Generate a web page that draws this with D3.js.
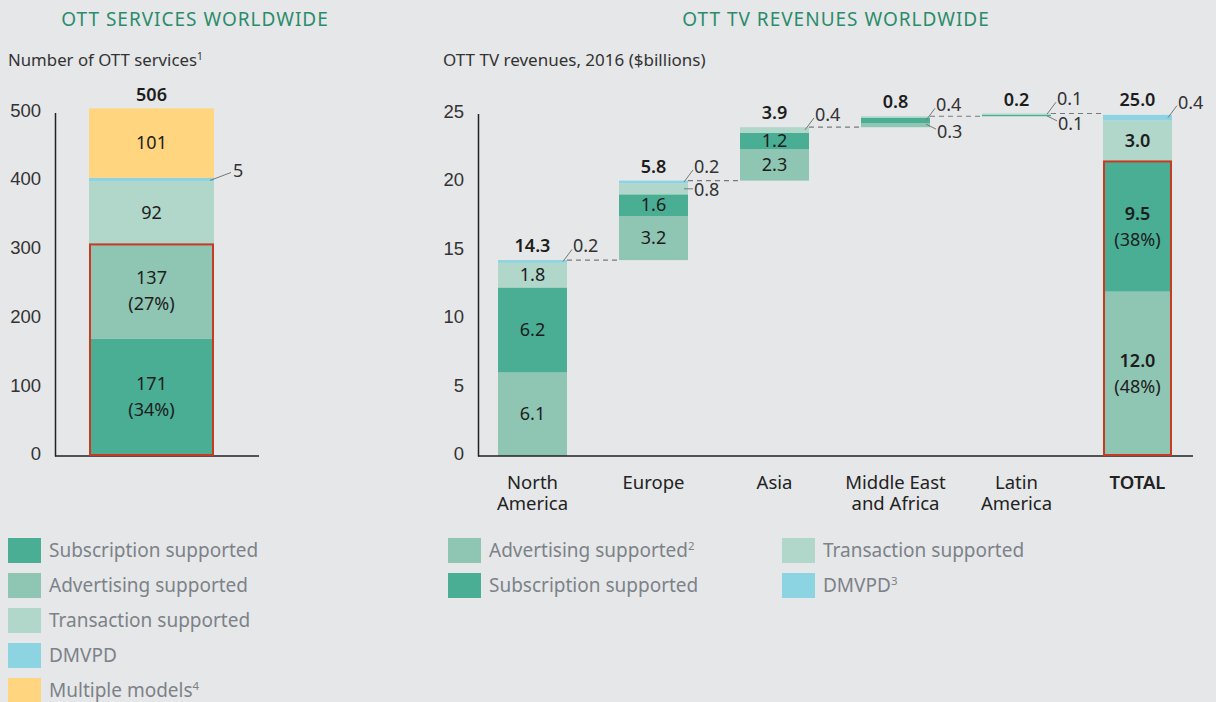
<!DOCTYPE html>
<html>
<head>
<meta charset="utf-8">
<script src="https://cdn.jsdelivr.net/npm/d3@7"></script>
<style>
  html, body { margin: 0; padding: 0; background: #e6e7e9; }
  svg { display: block; font-family: "Noto Sans", "Open Sans", sans-serif; }
</style>
</head>
<body>
<div id="chart"></div>
<script>
// left: number of OTT services, stacked bottom-up
const serviceTypes = ['Subscription supported', 'Advertising supported', 'Transaction supported', 'DMVPD', 'Multiple models'];
const serviceCounts = [171, 137, 92, 5, 101];
const serviceShares = ['(34%)', '(27%)', null, null, null];
const serviceTotal = 506;
const serviceTicks = [0, 100, 200, 300, 400, 500];

// right: OTT TV revenues 2016, $bn
const regions = ['North America', 'Europe', 'Asia', 'Middle East and Africa', 'Latin America', 'TOTAL'];
const regionLabels = [['North', 'America'], ['Europe'], ['Asia'], ['Middle East', 'and Africa'], ['Latin', 'America'], ['TOTAL']];
const advertising = [6.1, 3.2, 2.3, 0.3, 0, 12.0];
const subscription = [6.2, 1.6, 1.2, 0.4, 0.1, 9.5];
const transaction = [1.8, 0.8, 0.4, 0.1, 0.1, 3.0];
const dmvpd = [0.2, 0.2, 0, 0, 0, 0.4];
const regionTotals = [14.3, 5.8, 3.9, 0.8, 0.2, 25.0];
const totalShares = { advertising: '(48%)', subscription: '(38%)' };
const revenueTicks = [0, 5, 10, 15, 20, 25];

// small segments labelled outside the bar with a leader line
const callouts = [
    { region: 'North America', key: 'dmvpd', dir: 'up' },
    { region: 'Europe', key: 'dmvpd', dir: 'up' },
    { region: 'Europe', key: 'transaction', dir: 'flat' },
    { region: 'Asia', key: 'transaction', dir: 'up' },
    { region: 'Middle East and Africa', key: 'subscription', dir: 'up' },
    { region: 'Middle East and Africa', key: 'advertising', dir: 'down' },
    { region: 'Latin America', key: 'transaction', dir: 'up' },
    { region: 'Latin America', key: 'subscription', dir: 'down' },
    { region: 'TOTAL', key: 'dmvpd', dir: 'up' }
];

const colors = {
    subscription: '#4aae94',
    advertising: '#8fc5b3',
    transaction: '#b1d6ca',
    dmvpd: '#8cd4e2',
    multiple: '#ffd57f'
};
const serviceColors = [colors.subscription, colors.advertising, colors.transaction, colors.dmvpd, colors.multiple];
const green = '#2b8c6b';
const red = '#c83a22';
const ink = '#1d1d1d';

const svg = d3.select('#chart').append('svg').attr('width', 1216).attr('height', 702);
svg.append('rect').attr('width', 1216).attr('height', 702).attr('fill', '#e6e7e9');

function superText(sel, main, sup) {
    sel.text(main);
    if (sup) sel.append('tspan').attr('font-size', '0.6em').attr('dy', '-0.6em').text(sup);
}

// ---------- titles ----------
svg.append('text').attr('x', 195).attr('y', 26).attr('text-anchor', 'middle')
    .attr('fill', green).attr('font-size', 19).attr('letter-spacing', 1).text('OTT SERVICES WORLDWIDE');
svg.append('text').attr('x', 836).attr('y', 26).attr('text-anchor', 'middle')
    .attr('fill', green).attr('font-size', 19).attr('letter-spacing', 1).text('OTT TV REVENUES WORLDWIDE');
svg.append('text').attr('x', 8).attr('y', 66).attr('fill', '#333').attr('font-size', 16.8)
    .call(superText, 'Number of OTT services', '1');
svg.append('text').attr('x', 443).attr('y', 66).attr('fill', '#333').attr('font-size', 17)
    .text('OTT TV revenues, 2016 ($billions)');

// ---------- left chart ----------
const yL = d3.scaleLinear().domain([0, 500]).range([456, 112.5]);
const xL = d3.scaleBand().domain(['services']).range([55, 248]).paddingInner(0).paddingOuter(0.272);

const leftAxis = svg.append('g').attr('transform', 'translate(55,0)')
    .call(d3.axisLeft(yL).tickValues(serviceTicks).tickSize(0).tickSizeOuter(0).tickPadding(14));
leftAxis.select('.domain').attr('stroke', '#222').attr('stroke-width', 1.5);
leftAxis.selectAll('text').attr('font-size', 18.5).attr('fill', '#333').attr('font-family', null).attr('dy', '0.2em');

let acc = 0;
const serviceSegs = serviceCounts.map((v, i) => {
    const s = { type: serviceTypes[i], value: v, y0: acc, y1: acc + v, share: serviceShares[i], color: serviceColors[i] };
    acc += v;
    return s;
});

const lx = xL('services');
const lw = xL.bandwidth();
svg.append('g').selectAll('rect').data(serviceSegs).join('rect')
    .attr('x', lx).attr('width', lw)
    .attr('y', d => yL(d.y1)).attr('height', d => yL(d.y0) - yL(d.y1))
    .attr('fill', d => d.color);

svg.append('line').attr('x1', 55).attr('x2', 259).attr('y1', yL(0)).attr('y2', yL(0))
    .attr('stroke', '#222').attr('stroke-width', 1.5);

svg.append('rect').attr('x', lx + 1).attr('width', lw - 2)
    .attr('y', yL(serviceSegs[1].y1)).attr('height', yL(0) - yL(serviceSegs[1].y1) - 1)
    .attr('fill', 'none').attr('stroke', red).attr('stroke-width', 2);

const leftLabels = svg.append('g').attr('font-size', 18).attr('fill', ink).attr('text-anchor', 'middle');
serviceSegs.filter(d => d.value > 20).forEach(d => {
    const cy = yL((d.y0 + d.y1) / 2);
    if (d.share) {
        leftLabels.append('text').attr('x', lx + lw / 2).attr('y', cy - 7).text(d.value);
        leftLabels.append('text').attr('x', lx + lw / 2).attr('y', cy + 19).text(d.share);
    } else {
        leftLabels.append('text').attr('x', lx + lw / 2).attr('y', cy + 6).text(d.value);
    }
});
const smallSeg = serviceSegs[3];
const sy = yL((smallSeg.y0 + smallSeg.y1) / 2);
svg.append('line').attr('x1', lx + lw - 4).attr('y1', sy + 1).attr('x2', lx + lw + 17).attr('y2', sy - 7)
    .attr('stroke', '#777').attr('stroke-width', 1);
svg.append('text').attr('x', lx + lw + 19).attr('y', sy - 2).attr('font-size', 18).attr('fill', '#333').text(smallSeg.value);
svg.append('text').attr('x', lx + lw / 2).attr('y', yL(serviceTotal) - 7).attr('text-anchor', 'middle')
    .attr('font-size', 18).attr('font-weight', 600).attr('fill', ink).text(serviceTotal);

// ---------- right chart ----------
const yR = d3.scaleLinear().domain([0, 25]).range([456, 113.5]);
const xR = d3.scaleBand().domain(regions).range([472, 1198]).paddingInner(0.43).paddingOuter(0.215);
const bw = xR.bandwidth();

const rightAxis = svg.append('g').attr('transform', 'translate(478,0)')
    .call(d3.axisLeft(yR).tickValues(revenueTicks).tickSize(0).tickSizeOuter(0).tickPadding(14));
rightAxis.select('.domain').attr('stroke', '#222').attr('stroke-width', 1.5);
rightAxis.selectAll('text').attr('font-size', 18.5).attr('fill', '#333').attr('font-family', null).attr('dy', '0.2em');

const revenueKeys = ['advertising', 'subscription', 'transaction', 'dmvpd'];
const revenueRows = regions.map((r, i) => ({
    region: r,
    advertising: advertising[i],
    subscription: subscription[i],
    transaction: transaction[i],
    dmvpd: dmvpd[i]
}));
// waterfall base: running total of earlier regions, TOTAL starts from zero
const bases = regions.map((r, i) => r === 'TOTAL' ? 0 : d3.sum(regionTotals.slice(0, i)));
const stacked = d3.stack().keys(revenueKeys)(revenueRows);

const segs = [];
stacked.forEach(layer => {
    layer.forEach((p, i) => {
        segs.push({
            key: layer.key,
            region: regions[i],
            index: i,
            value: p.data[layer.key],
            y0: bases[i] + p[0],
            y1: bases[i] + p[1]
        });
    });
});

svg.append('g').selectAll('rect').data(segs.filter(d => d.value > 0)).join('rect')
    .attr('x', d => xR(d.region)).attr('width', bw)
    .attr('y', d => yR(d.y1)).attr('height', d => yR(d.y0) - yR(d.y1))
    .attr('fill', d => colors[d.key]);

// dashed connectors between bars
const connectors = regions.slice(0, -1).map((r, i) => ({
    x1: xR(r) + bw, x2: xR(regions[i + 1]), level: bases[i] + regionTotals[i]
}));
svg.append('g').selectAll('line').data(connectors).join('line')
    .attr('x1', d => d.x1).attr('x2', d => d.x2)
    .attr('y1', d => yR(d.level)).attr('y2', d => yR(d.level))
    .attr('stroke', '#7a7a7a').attr('stroke-width', 1.2).attr('stroke-dasharray', '5,4');

svg.append('line').attr('x1', 478).attr('x2', 1193).attr('y1', yR(0)).attr('y2', yR(0))
    .attr('stroke', '#222').attr('stroke-width', 1.5);

// red outline round ad + subscription share of total
const totalSub = segs.find(d => d.region === 'TOTAL' && d.key === 'subscription');
svg.append('rect').attr('x', xR('TOTAL') + 1).attr('width', bw - 2)
    .attr('y', yR(totalSub.y1)).attr('height', yR(0) - yR(totalSub.y1) - 1)
    .attr('fill', 'none').attr('stroke', red).attr('stroke-width', 2);

// inside labels
const insideLabels = svg.append('g').attr('font-size', 18).attr('fill', ink).attr('text-anchor', 'middle');
segs.filter(d => d.value >= 1).forEach(d => {
    const cx = xR(d.region) + bw / 2;
    const cy = yR((d.y0 + d.y1) / 2);
    const isTotal = d.region === 'TOTAL';
    const share = isTotal ? totalShares[d.key] : null;
    if (share) {
        insideLabels.append('text').attr('x', cx).attr('y', cy - 7).attr('font-weight', 600).text(d.value.toFixed(1));
        insideLabels.append('text').attr('x', cx).attr('y', cy + 19).text(share);
    } else {
        insideLabels.append('text').attr('x', cx).attr('y', cy + 6)
            .attr('font-weight', isTotal ? 600 : 400).text(d.value.toFixed(1));
    }
});

// callouts with leader lines
const calloutG = svg.append('g');
callouts.forEach(c => {
    const d = segs.find(s => s.region === c.region && s.key === c.key);
    const right = xR(d.region) + bw;
    const my = yR((d.y0 + d.y1) / 2);
    let x1 = right - 4, y1 = my, x2, y2, ty;
    if (c.dir === 'up') { x2 = right + 5; y2 = my - 12; ty = y2 + 3; }
    else if (c.dir === 'down') { y1 = yR(d.y1) + 1; x2 = right + 6; y2 = y1 + 5; ty = y2 + 9; }
    else { x2 = right + 5; y2 = my; ty = my + 7; }
    calloutG.append('line').attr('x1', x1).attr('y1', y1).attr('x2', x2).attr('y2', y2)
        .attr('stroke', '#777').attr('stroke-width', 1);
    calloutG.append('text').attr('x', x2 + 1).attr('y', ty).attr('font-size', 18).attr('fill', '#333')
        .text(d.value.toFixed(1));
});

// totals above bars
svg.append('g').selectAll('text').data(regions).join('text')
    .attr('x', d => xR(d) + bw / 2)
    .attr('y', (d, i) => yR(bases[i] + regionTotals[i]) - 8)
    .attr('text-anchor', 'middle').attr('font-size', 18).attr('font-weight', 600).attr('fill', ink)
    .text((d, i) => regionTotals[i].toFixed(1));

// category labels, one text per line
const catG = svg.append('g').attr('font-size', 18.5).attr('fill', '#222').attr('text-anchor', 'middle');
regions.forEach((r, i) => {
    regionLabels[i].forEach((line, j) => {
        catG.append('text').attr('x', xR(r) + bw / 2).attr('y', 489 + j * 21)
            .attr('font-weight', r === 'TOTAL' ? 600 : 400).text(line);
    });
});

// ---------- legends ----------
const leftLegend = [
    { label: 'Subscription supported', color: colors.subscription },
    { label: 'Advertising supported', color: colors.advertising },
    { label: 'Transaction supported', color: colors.transaction },
    { label: 'DMVPD', color: colors.dmvpd },
    { label: 'Multiple models', sup: '4', color: colors.multiple }
];
const rightLegend = [
    { label: 'Advertising supported', sup: '2', color: colors.advertising, col: 0, row: 0 },
    { label: 'Subscription supported', color: colors.subscription, col: 0, row: 1 },
    { label: 'Transaction supported', color: colors.transaction, col: 1, row: 0 },
    { label: 'DMVPD', sup: '3', color: colors.dmvpd, col: 1, row: 1 }
];

function legendItem(g, x, y, d) {
    g.append('rect').attr('x', x).attr('y', y).attr('width', 33).attr('height', 25).attr('fill', d.color);
    g.append('text').attr('x', x + 41).attr('y', y + 19).attr('font-size', 19).attr('fill', '#7c8288')
        .call(superText, d.label, d.sup);
}
const legG = svg.append('g');
leftLegend.forEach((d, i) => legendItem(legG, 8, 538 + i * 35, d));
rightLegend.forEach(d => legendItem(legG, 448 + d.col * 334, 538 + d.row * 35, d));
</script>
</body>
</html>
